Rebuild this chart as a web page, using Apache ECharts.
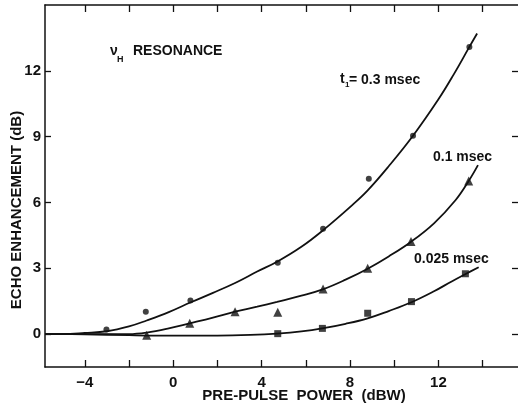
<!DOCTYPE html>
<html>
<head>
<meta charset="utf-8">
<script src="https://cdn.jsdelivr.net/npm/echarts@6/dist/echarts.min.js"></script>
<style>
  html, body { margin: 0; padding: 0; background: #fff; }
  #chart { width: 518px; height: 406px; }
</style>
</head>
<body>
<div id="chart"></div>
<script>
// fitted curves
const curve03X = [-5.8, -5, -4, -3, -2, -1.2, -0.2, 0.8, 1.8, 2.8, 3.8, 4.7, 5.8, 6.8, 8.1, 8.8, 9.75, 10.85, 12, 12.7, 13.4, 13.75];
const curve03Y = [0, 0, 0.05, 0.13, 0.35, 0.62, 1.0, 1.45, 1.88, 2.33, 2.85, 3.3, 3.98, 4.75, 5.88, 6.55, 7.65, 9.04, 10.7, 11.85, 13.09, 13.7];

const curve01X = [-5.8, -3, -2, -1.2, -0.2, 0.75, 1.8, 2.8, 3.8, 4.7, 5.8, 6.8, 7.8, 8.8, 9.75, 10.75, 11.8, 12.77, 13.37, 13.79];
const curve01Y = [0, 0, 0, 0.07, 0.26, 0.49, 0.75, 1.02, 1.25, 1.47, 1.75, 2.05, 2.48, 2.98, 3.54, 4.2, 5.05, 6.1, 6.98, 7.7];

const curve0025X = [-5.8, -4, -2, 0, 2, 3.5, 4.7, 5.8, 6.8, 7.8, 8.8, 9.75, 10.78, 11.8, 12.6, 13.25, 13.82];
const curve0025Y = [0, -0.01, -0.05, -0.07, -0.07, -0.04, 0.02, 0.12, 0.27, 0.47, 0.72, 1.05, 1.45, 1.95, 2.4, 2.75, 3.05];

// measured points
const dots03X = [-3.02, -1.24, 0.78, 4.73, 6.78, 8.85, 10.85, 13.4];
const dots03Y = [0.21, 1.02, 1.53, 3.25, 4.8, 7.08, 9.04, 13.09];
const tri01X = [-1.2, 0.75, 2.8, 4.73, 6.78, 8.8, 10.76, 13.37];
const tri01Y = [-0.05, 0.49, 1.02, 1.0, 2.05, 3.0, 4.22, 6.98];
const sq0025X = [4.73, 6.75, 8.8, 10.78, 13.22];
const sq0025Y = [0.02, 0.26, 0.95, 1.48, 2.75];

// axis ticks / labels
const xLabelVals = [-4, 0, 4, 8, 12];
const xTickVals = [-4, -2, 0, 2, 4, 6, 8, 10, 12, 14];
const yTickVals = [0, 3, 6, 9, 12];

const ink = '#111';
const font = 'Liberation Sans';

function pairs(xs, ys) {
    return xs.map((x, i) => [x, ys[i]]);
}

function curve(xs, ys) {
    return {
        type: 'line', data: pairs(xs, ys), smooth: 0.4, showSymbol: false,
        lineStyle: { color: ink, width: 1.8 }, silent: true, z: 2
    };
}

function marks(xs, ys, symbol, size) {
    return {
        type: 'scatter', data: pairs(xs, ys), symbol: symbol, symbolSize: size,
        itemStyle: { color: ink }, silent: true, z: 3
    };
}

function xAx(pos, labels) {
    return {
        type: 'value', position: pos, min: -5.8, max: 15.6,
        axisLine: { show: true, onZero: false, lineStyle: { color: ink, width: 1.5 } },
        axisTick: { show: true, inside: true, length: 7, customValues: xTickVals, lineStyle: { color: ink, width: 1.3 } },
        axisLabel: {
            show: labels, customValues: xLabelVals, margin: 8,
            color: ink, fontFamily: font, fontWeight: 'bold', fontSize: 15,
            formatter: v => (v < 0 ? '\u2212' + Math.abs(v) : '' + v)
        },
        splitLine: { show: false }
    };
}

function yAx(pos, labels) {
    return {
        type: 'value', position: pos, min: -1.5, max: 15,
        axisLine: { show: pos === 'left', onZero: false, lineStyle: { color: ink, width: 1.5 } },
        axisTick: { show: true, inside: true, length: 6, customValues: yTickVals, lineStyle: { color: ink, width: 1.3 } },
        axisLabel: {
            show: labels, customValues: yTickVals, margin: 4,
            color: ink, fontFamily: font, fontWeight: 'bold', fontSize: 15
        },
        splitLine: { show: false }
    };
}

function txt(x, y, s, size, align) {
    return {
        type: 'text', x: x, y: y, silent: true,
        style: {
            text: s, fill: ink, font: 'bold ' + size + 'px "' + font + '"',
            textAlign: align || 'left', textVerticalAlign: 'middle'
        }
    };
}

const chart = echarts.init(document.getElementById('chart'));
chart.setOption({
    backgroundColor: '#fff',
    animation: false,
    grid: { left: 45, right: 0, top: 5, bottom: 39 },
    xAxis: [xAx('bottom', true), xAx('top', false)],
    yAxis: [yAx('left', true), yAx('right', false)],
    series: [
        curve(curve03X, curve03Y),
        curve(curve01X, curve01Y),
        curve(curve0025X, curve0025Y),
        marks(dots03X, dots03Y, 'circle', 6),
        marks(tri01X, tri01Y, 'triangle', 9),
        marks(sq0025X, sq0025Y, 'rect', 7)
    ],
    graphic: [
        txt(110, 51, '\u03bd', 14),
        txt(117, 60, 'H', 9),
        txt(133, 51, 'RESONANCE', 14),
        txt(340, 79, 't', 14),
        txt(345, 85, '1', 8),
        txt(349, 80, '= 0.3 msec', 14),
        txt(433, 157, '0.1 msec', 14),
        txt(414, 259, '0.025 msec', 14),
        txt(304, 396, 'PRE-PULSE  POWER  (dBW)', 15, 'center'),
        {
            type: 'text', x: 17, y: 210, rotation: Math.PI / 2, silent: true,
            style: {
                text: 'ECHO ENHANCEMENT (dB)', fill: ink, font: 'bold 15px "' + font + '"',
                textAlign: 'center', textVerticalAlign: 'middle'
            }
        }
    ]
});
</script>
</body>
</html>
